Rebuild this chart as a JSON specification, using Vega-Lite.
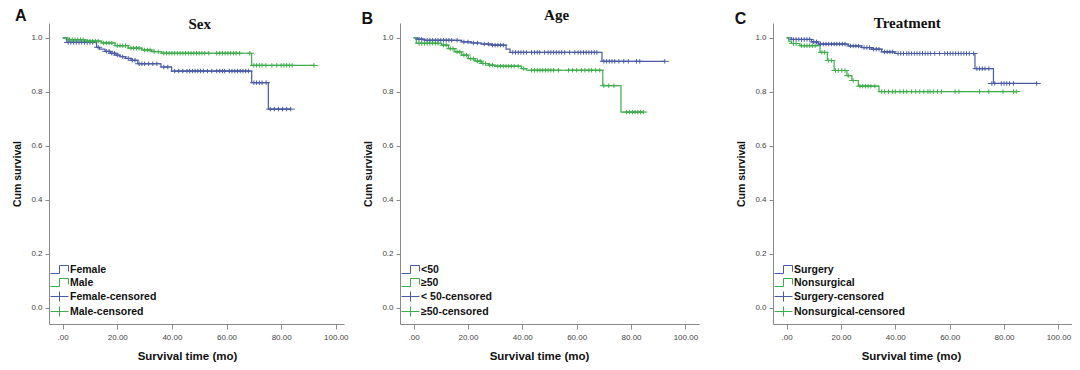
{
  "$schema": "https://vega.github.io/schema/vega-lite/v6.json",
  "padding": {"left": 12, "top": 7, "right": 0, "bottom": 0},
  "autosize": {"type": "pad"},
  "config": {
    "view": {"stroke": null},
    "font": "Liberation Sans",
    "axis": {"grid": false, "domainColor": "#8a8a8a", "tickColor": "#8a8a8a", "labelColor": "#444", "labelFont": "Liberation Sans", "labelFontSize": 8, "titleFont": "Liberation Sans", "titleFontWeight": "bold", "titleColor": "#111", "domainWidth": 1, "tickSize": 4},
    "axisX": {"titleFontSize": 11.5, "labelPadding": 4, "titlePadding": 9, "tickSize": 5},
    "axisY": {"titleFontSize": 10.5, "titlePadding": 8, "labelPadding": 3},
    "legend": {"labelFont": "Liberation Sans", "labelFontSize": 10.5, "labelFontWeight": "bold", "labelColor": "#111", "symbolSize": 100, "symbolStrokeWidth": 1, "rowPadding": 0, "labelOffset": 5, "padding": 0, "symbolFillColor": "transparent"}
  },
  "datasets": {
    "sA": [
      {"g":"Female","t":0,"s":1},{"g":"Female","t":1.5,"s":0.983},{"g":"Female","t":12.4,"s":0.965},{"g":"Female","t":13.5,"s":0.958},{"g":"Female","t":15.5,"s":0.95},{"g":"Female","t":17.5,"s":0.943},{"g":"Female","t":19.5,"s":0.936},{"g":"Female","t":21,"s":0.93},{"g":"Female","t":23,"s":0.924},{"g":"Female","t":25,"s":0.917},{"g":"Female","t":27.5,"s":0.904},{"g":"Female","t":36,"s":0.892},{"g":"Female","t":39.9,"s":0.877},{"g":"Female","t":69.2,"s":0.834},{"g":"Female","t":75.3,"s":0.736},{"g":"Female","t":83.5,"s":0.736},
      {"g":"Male","t":0,"s":1},{"g":"Male","t":2,"s":0.993},{"g":"Male","t":8,"s":0.988},{"g":"Male","t":14.3,"s":0.981},{"g":"Male","t":19.2,"s":0.971},{"g":"Male","t":24,"s":0.962},{"g":"Male","t":28.9,"s":0.955},{"g":"Male","t":32.6,"s":0.949},{"g":"Male","t":36.3,"s":0.943},{"g":"Male","t":69.2,"s":0.898},{"g":"Male","t":92,"s":0.898}
    ],
    "cA": [
      {"g":"Female-censored","t":2,"s":0.983},{"g":"Female-censored","t":3,"s":0.983},{"g":"Female-censored","t":4,"s":0.983},{"g":"Female-censored","t":5,"s":0.983},{"g":"Female-censored","t":6,"s":0.983},{"g":"Female-censored","t":7,"s":0.983},{"g":"Female-censored","t":8,"s":0.983},{"g":"Female-censored","t":9,"s":0.983},{"g":"Female-censored","t":10,"s":0.983},{"g":"Female-censored","t":11,"s":0.983},
      {"g":"Female-censored","t":13,"s":0.965},{"g":"Female-censored","t":16,"s":0.95},{"g":"Female-censored","t":17,"s":0.95},{"g":"Female-censored","t":18,"s":0.943},{"g":"Female-censored","t":19,"s":0.943},{"g":"Female-censored","t":20,"s":0.936},{"g":"Female-censored","t":22,"s":0.93},{"g":"Female-censored","t":24,"s":0.924},{"g":"Female-censored","t":25.5,"s":0.917},{"g":"Female-censored","t":26.5,"s":0.917},
      {"g":"Female-censored","t":28,"s":0.904},{"g":"Female-censored","t":29,"s":0.904},{"g":"Female-censored","t":30,"s":0.904},{"g":"Female-censored","t":31.5,"s":0.904},{"g":"Female-censored","t":33,"s":0.904},{"g":"Female-censored","t":34.5,"s":0.904},{"g":"Female-censored","t":37,"s":0.892},{"g":"Female-censored","t":38.5,"s":0.892},
      {"g":"Female-censored","t":41,"s":0.877},{"g":"Female-censored","t":42.5,"s":0.877},{"g":"Female-censored","t":44,"s":0.877},{"g":"Female-censored","t":45.5,"s":0.877},{"g":"Female-censored","t":46.5,"s":0.877},{"g":"Female-censored","t":47.5,"s":0.877},{"g":"Female-censored","t":48.5,"s":0.877},{"g":"Female-censored","t":49.5,"s":0.877},{"g":"Female-censored","t":50.5,"s":0.877},{"g":"Female-censored","t":51.5,"s":0.877},{"g":"Female-censored","t":53,"s":0.877},{"g":"Female-censored","t":54.6,"s":0.877},{"g":"Female-censored","t":56.4,"s":0.877},{"g":"Female-censored","t":57.5,"s":0.877},{"g":"Female-censored","t":58.5,"s":0.877},{"g":"Female-censored","t":59.3,"s":0.877},{"g":"Female-censored","t":61,"s":0.877},{"g":"Female-censored","t":62,"s":0.877},{"g":"Female-censored","t":63,"s":0.877},{"g":"Female-censored","t":64,"s":0.877},{"g":"Female-censored","t":65,"s":0.877},{"g":"Female-censored","t":66,"s":0.877},{"g":"Female-censored","t":67,"s":0.877},{"g":"Female-censored","t":68,"s":0.877},
      {"g":"Female-censored","t":70,"s":0.834},{"g":"Female-censored","t":71,"s":0.834},{"g":"Female-censored","t":72,"s":0.834},{"g":"Female-censored","t":73,"s":0.834},{"g":"Female-censored","t":74.5,"s":0.834},
      {"g":"Female-censored","t":76,"s":0.736},{"g":"Female-censored","t":77.5,"s":0.736},{"g":"Female-censored","t":79,"s":0.736},{"g":"Female-censored","t":80.5,"s":0.736},{"g":"Female-censored","t":82,"s":0.736},{"g":"Female-censored","t":83.5,"s":0.736},
      {"g":"Male-censored","t":2.5,"s":0.993},{"g":"Male-censored","t":3.5,"s":0.993},{"g":"Male-censored","t":4.5,"s":0.993},{"g":"Male-censored","t":5.5,"s":0.993},{"g":"Male-censored","t":6.5,"s":0.993},{"g":"Male-censored","t":7.5,"s":0.993},
      {"g":"Male-censored","t":9,"s":0.988},{"g":"Male-censored","t":10,"s":0.988},{"g":"Male-censored","t":11,"s":0.988},{"g":"Male-censored","t":12,"s":0.988},{"g":"Male-censored","t":13,"s":0.988},
      {"g":"Male-censored","t":15,"s":0.981},{"g":"Male-censored","t":16,"s":0.981},{"g":"Male-censored","t":17,"s":0.981},{"g":"Male-censored","t":18,"s":0.981},
      {"g":"Male-censored","t":20,"s":0.971},{"g":"Male-censored","t":21,"s":0.971},{"g":"Male-censored","t":22,"s":0.971},{"g":"Male-censored","t":23,"s":0.971},
      {"g":"Male-censored","t":25,"s":0.962},{"g":"Male-censored","t":26,"s":0.962},{"g":"Male-censored","t":27,"s":0.962},{"g":"Male-censored","t":28,"s":0.962},
      {"g":"Male-censored","t":30,"s":0.955},{"g":"Male-censored","t":31,"s":0.955},{"g":"Male-censored","t":32,"s":0.955},{"g":"Male-censored","t":33.5,"s":0.949},{"g":"Male-censored","t":35,"s":0.949},
      {"g":"Male-censored","t":37,"s":0.943},{"g":"Male-censored","t":38,"s":0.943},{"g":"Male-censored","t":39,"s":0.943},{"g":"Male-censored","t":40,"s":0.943},{"g":"Male-censored","t":41,"s":0.943},{"g":"Male-censored","t":42,"s":0.943},{"g":"Male-censored","t":43,"s":0.943},{"g":"Male-censored","t":44,"s":0.943},{"g":"Male-censored","t":45,"s":0.943},{"g":"Male-censored","t":46,"s":0.943},{"g":"Male-censored","t":47,"s":0.943},{"g":"Male-censored","t":48,"s":0.943},{"g":"Male-censored","t":49,"s":0.943},{"g":"Male-censored","t":50,"s":0.943},{"g":"Male-censored","t":51,"s":0.943},{"g":"Male-censored","t":52,"s":0.943},{"g":"Male-censored","t":53.5,"s":0.943},{"g":"Male-censored","t":56.4,"s":0.943},{"g":"Male-censored","t":57.5,"s":0.943},{"g":"Male-censored","t":58.5,"s":0.943},{"g":"Male-censored","t":59.5,"s":0.943},{"g":"Male-censored","t":60.5,"s":0.943},{"g":"Male-censored","t":61.5,"s":0.943},{"g":"Male-censored","t":62.5,"s":0.943},{"g":"Male-censored","t":63.5,"s":0.943},{"g":"Male-censored","t":64.8,"s":0.943},{"g":"Male-censored","t":68.5,"s":0.943},
      {"g":"Male-censored","t":70,"s":0.898},{"g":"Male-censored","t":71,"s":0.898},{"g":"Male-censored","t":72,"s":0.898},{"g":"Male-censored","t":73,"s":0.898},{"g":"Male-censored","t":74.4,"s":0.898},{"g":"Male-censored","t":76.6,"s":0.898},{"g":"Male-censored","t":78.4,"s":0.898},{"g":"Male-censored","t":80,"s":0.898},{"g":"Male-censored","t":81,"s":0.898},{"g":"Male-censored","t":82,"s":0.898},{"g":"Male-censored","t":83,"s":0.898},{"g":"Male-censored","t":84,"s":0.898},{"g":"Male-censored","t":92,"s":0.898}
    ],
    "sB": [
      {"g":"<50","t":0,"s":1},{"g":"<50","t":1.5,"s":0.995},{"g":"<50","t":4,"s":0.991},{"g":"<50","t":17.7,"s":0.985},{"g":"<50","t":21.3,"s":0.981},{"g":"<50","t":25,"s":0.977},{"g":"<50","t":28.7,"s":0.973},{"g":"<50","t":34,"s":0.958},{"g":"<50","t":35.5,"s":0.946},{"g":"<50","t":69.3,"s":0.913},{"g":"<50","t":92.4,"s":0.913},
      {"g":"≥50","t":0,"s":1},{"g":"≥50","t":1,"s":0.98},{"g":"≥50","t":10.3,"s":0.973},{"g":"≥50","t":12.8,"s":0.96},{"g":"≥50","t":15.2,"s":0.948},{"g":"≥50","t":17.7,"s":0.936},{"g":"≥50","t":20.1,"s":0.923},{"g":"≥50","t":22.6,"s":0.914},{"g":"≥50","t":25,"s":0.905},{"g":"≥50","t":27.5,"s":0.899},{"g":"≥50","t":29.9,"s":0.895},{"g":"≥50","t":39.7,"s":0.886},{"g":"≥50","t":41.5,"s":0.88},{"g":"≥50","t":69.6,"s":0.823},{"g":"≥50","t":76.3,"s":0.725},{"g":"≥50","t":84.5,"s":0.725}
    ],
    "cB": [
      {"g":"< 50-censored","t":2,"s":0.995},{"g":"< 50-censored","t":3,"s":0.995},
      {"g":"< 50-censored","t":5,"s":0.991},{"g":"< 50-censored","t":6,"s":0.991},{"g":"< 50-censored","t":7,"s":0.991},{"g":"< 50-censored","t":8,"s":0.991},{"g":"< 50-censored","t":9,"s":0.991},{"g":"< 50-censored","t":10,"s":0.991},{"g":"< 50-censored","t":11,"s":0.991},{"g":"< 50-censored","t":12,"s":0.991},{"g":"< 50-censored","t":13,"s":0.991},{"g":"< 50-censored","t":14,"s":0.991},{"g":"< 50-censored","t":16,"s":0.991},
      {"g":"< 50-censored","t":18.5,"s":0.985},{"g":"< 50-censored","t":20,"s":0.985},{"g":"< 50-censored","t":22,"s":0.981},{"g":"< 50-censored","t":23.5,"s":0.981},{"g":"< 50-censored","t":26,"s":0.977},{"g":"< 50-censored","t":27.5,"s":0.977},
      {"g":"< 50-censored","t":29,"s":0.973},{"g":"< 50-censored","t":30,"s":0.973},{"g":"< 50-censored","t":31,"s":0.973},{"g":"< 50-censored","t":32,"s":0.973},{"g":"< 50-censored","t":33,"s":0.973},
      {"g":"< 50-censored","t":36.5,"s":0.946},{"g":"< 50-censored","t":37.5,"s":0.946},{"g":"< 50-censored","t":38.5,"s":0.946},{"g":"< 50-censored","t":39.5,"s":0.946},{"g":"< 50-censored","t":40.5,"s":0.946},{"g":"< 50-censored","t":41.5,"s":0.946},{"g":"< 50-censored","t":43.4,"s":0.946},{"g":"< 50-censored","t":44.5,"s":0.946},{"g":"< 50-censored","t":45.5,"s":0.946},{"g":"< 50-censored","t":46.4,"s":0.946},{"g":"< 50-censored","t":48.2,"s":0.946},{"g":"< 50-censored","t":49.5,"s":0.946},{"g":"< 50-censored","t":50.5,"s":0.946},{"g":"< 50-censored","t":51.5,"s":0.946},{"g":"< 50-censored","t":52.5,"s":0.946},{"g":"< 50-censored","t":53.5,"s":0.946},{"g":"< 50-censored","t":54.5,"s":0.946},{"g":"< 50-censored","t":55.6,"s":0.946},{"g":"< 50-censored","t":57.4,"s":0.946},{"g":"< 50-censored","t":59.3,"s":0.946},{"g":"< 50-censored","t":60.5,"s":0.946},{"g":"< 50-censored","t":61.5,"s":0.946},{"g":"< 50-censored","t":62.5,"s":0.946},{"g":"< 50-censored","t":63.5,"s":0.946},{"g":"< 50-censored","t":64.5,"s":0.946},{"g":"< 50-censored","t":65.5,"s":0.946},{"g":"< 50-censored","t":66.5,"s":0.946},{"g":"< 50-censored","t":67.4,"s":0.946},
      {"g":"< 50-censored","t":70,"s":0.913},{"g":"< 50-censored","t":71,"s":0.913},{"g":"< 50-censored","t":72,"s":0.913},{"g":"< 50-censored","t":73,"s":0.913},{"g":"< 50-censored","t":74,"s":0.913},{"g":"< 50-censored","t":75.5,"s":0.913},{"g":"< 50-censored","t":77.3,"s":0.913},{"g":"< 50-censored","t":79,"s":0.913},{"g":"< 50-censored","t":82,"s":0.913},{"g":"< 50-censored","t":83.2,"s":0.913},{"g":"< 50-censored","t":92.4,"s":0.913},
      {"g":"≥50-censored","t":2,"s":0.98},{"g":"≥50-censored","t":3,"s":0.98},{"g":"≥50-censored","t":4,"s":0.98},{"g":"≥50-censored","t":5,"s":0.98},{"g":"≥50-censored","t":6,"s":0.98},{"g":"≥50-censored","t":7,"s":0.98},{"g":"≥50-censored","t":8,"s":0.98},{"g":"≥50-censored","t":9,"s":0.98},
      {"g":"≥50-censored","t":11,"s":0.973},{"g":"≥50-censored","t":12,"s":0.973},{"g":"≥50-censored","t":13.5,"s":0.96},{"g":"≥50-censored","t":14.5,"s":0.96},{"g":"≥50-censored","t":16,"s":0.948},{"g":"≥50-censored","t":17,"s":0.948},{"g":"≥50-censored","t":18.5,"s":0.936},{"g":"≥50-censored","t":19.5,"s":0.936},{"g":"≥50-censored","t":21,"s":0.923},{"g":"≥50-censored","t":22,"s":0.923},{"g":"≥50-censored","t":23.5,"s":0.914},{"g":"≥50-censored","t":24.5,"s":0.914},{"g":"≥50-censored","t":25.5,"s":0.905},{"g":"≥50-censored","t":26.5,"s":0.905},{"g":"≥50-censored","t":28,"s":0.899},{"g":"≥50-censored","t":29,"s":0.899},
      {"g":"≥50-censored","t":31,"s":0.895},{"g":"≥50-censored","t":32,"s":0.895},{"g":"≥50-censored","t":33,"s":0.895},{"g":"≥50-censored","t":34,"s":0.895},{"g":"≥50-censored","t":35,"s":0.895},{"g":"≥50-censored","t":36,"s":0.895},{"g":"≥50-censored","t":37,"s":0.895},{"g":"≥50-censored","t":38.5,"s":0.895},{"g":"≥50-censored","t":40.5,"s":0.886},
      {"g":"≥50-censored","t":43.4,"s":0.88},{"g":"≥50-censored","t":44.5,"s":0.88},{"g":"≥50-censored","t":45.5,"s":0.88},{"g":"≥50-censored","t":46.5,"s":0.88},{"g":"≥50-censored","t":47.5,"s":0.88},{"g":"≥50-censored","t":48.5,"s":0.88},{"g":"≥50-censored","t":49.5,"s":0.88},{"g":"≥50-censored","t":50.5,"s":0.88},{"g":"≥50-censored","t":51.5,"s":0.88},{"g":"≥50-censored","t":53.3,"s":0.88},{"g":"≥50-censored","t":57,"s":0.88},{"g":"≥50-censored","t":58.5,"s":0.88},{"g":"≥50-censored","t":60,"s":0.88},{"g":"≥50-censored","t":61.8,"s":0.88},{"g":"≥50-censored","t":63,"s":0.88},{"g":"≥50-censored","t":64.5,"s":0.88},{"g":"≥50-censored","t":65.5,"s":0.88},{"g":"≥50-censored","t":67,"s":0.88},{"g":"≥50-censored","t":68.5,"s":0.88},
      {"g":"≥50-censored","t":70,"s":0.823},{"g":"≥50-censored","t":71.8,"s":0.823},{"g":"≥50-censored","t":73.7,"s":0.823},
      {"g":"≥50-censored","t":78.4,"s":0.725},{"g":"≥50-censored","t":79.5,"s":0.725},{"g":"≥50-censored","t":80.5,"s":0.725},{"g":"≥50-censored","t":81.5,"s":0.725},{"g":"≥50-censored","t":82.5,"s":0.725},{"g":"≥50-censored","t":83.5,"s":0.725},{"g":"≥50-censored","t":84.5,"s":0.725}
    ],
    "sC": [
      {"g":"Surgery","t":0,"s":1},{"g":"Surgery","t":1.8,"s":0.994},{"g":"Surgery","t":9.2,"s":0.985},{"g":"Surgery","t":11.7,"s":0.977},{"g":"Surgery","t":22.7,"s":0.97},{"g":"Surgery","t":27.6,"s":0.964},{"g":"Surgery","t":31.3,"s":0.958},{"g":"Surgery","t":35,"s":0.948},{"g":"Surgery","t":39.9,"s":0.942},{"g":"Surgery","t":69.3,"s":0.886},{"g":"Surgery","t":76.1,"s":0.831},{"g":"Surgery","t":92,"s":0.831},
      {"g":"Nonsurgical","t":0,"s":1},{"g":"Nonsurgical","t":0.8,"s":0.988},{"g":"Nonsurgical","t":1.8,"s":0.979},{"g":"Nonsurgical","t":4.9,"s":0.971},{"g":"Nonsurgical","t":12.3,"s":0.946},{"g":"Nonsurgical","t":15,"s":0.916},{"g":"Nonsurgical","t":17.5,"s":0.879},{"g":"Nonsurgical","t":22.2,"s":0.86},{"g":"Nonsurgical","t":24,"s":0.842},{"g":"Nonsurgical","t":26.4,"s":0.821},{"g":"Nonsurgical","t":34,"s":0.801},{"g":"Nonsurgical","t":84.5,"s":0.801}
    ],
    "cC": [
      {"g":"Surgery-censored","t":2.5,"s":0.994},{"g":"Surgery-censored","t":3.5,"s":0.994},{"g":"Surgery-censored","t":4.5,"s":0.994},{"g":"Surgery-censored","t":5.5,"s":0.994},{"g":"Surgery-censored","t":6.5,"s":0.994},{"g":"Surgery-censored","t":7.5,"s":0.994},{"g":"Surgery-censored","t":8.5,"s":0.994},
      {"g":"Surgery-censored","t":10,"s":0.985},{"g":"Surgery-censored","t":11,"s":0.985},
      {"g":"Surgery-censored","t":12.5,"s":0.977},{"g":"Surgery-censored","t":13.5,"s":0.977},{"g":"Surgery-censored","t":14.5,"s":0.977},{"g":"Surgery-censored","t":15.5,"s":0.977},{"g":"Surgery-censored","t":16.5,"s":0.977},{"g":"Surgery-censored","t":17.5,"s":0.977},{"g":"Surgery-censored","t":18.5,"s":0.977},{"g":"Surgery-censored","t":19.5,"s":0.977},{"g":"Surgery-censored","t":20.5,"s":0.977},{"g":"Surgery-censored","t":21.5,"s":0.977},
      {"g":"Surgery-censored","t":23.5,"s":0.97},{"g":"Surgery-censored","t":24.5,"s":0.97},{"g":"Surgery-censored","t":25.5,"s":0.97},{"g":"Surgery-censored","t":26.5,"s":0.97},
      {"g":"Surgery-censored","t":28.5,"s":0.964},{"g":"Surgery-censored","t":29.5,"s":0.964},{"g":"Surgery-censored","t":30.5,"s":0.964},
      {"g":"Surgery-censored","t":32,"s":0.958},{"g":"Surgery-censored","t":33,"s":0.958},{"g":"Surgery-censored","t":34,"s":0.958},
      {"g":"Surgery-censored","t":36,"s":0.948},{"g":"Surgery-censored","t":37,"s":0.948},{"g":"Surgery-censored","t":38,"s":0.948},{"g":"Surgery-censored","t":39,"s":0.948},
      {"g":"Surgery-censored","t":41,"s":0.942},{"g":"Surgery-censored","t":42,"s":0.942},{"g":"Surgery-censored","t":43,"s":0.942},{"g":"Surgery-censored","t":44.2,"s":0.942},{"g":"Surgery-censored","t":45,"s":0.942},{"g":"Surgery-censored","t":46,"s":0.942},{"g":"Surgery-censored","t":47,"s":0.942},{"g":"Surgery-censored","t":48,"s":0.942},{"g":"Surgery-censored","t":49,"s":0.942},{"g":"Surgery-censored","t":50,"s":0.942},{"g":"Surgery-censored","t":51,"s":0.942},{"g":"Surgery-censored","t":52,"s":0.942},{"g":"Surgery-censored","t":53,"s":0.942},{"g":"Surgery-censored","t":54.5,"s":0.942},{"g":"Surgery-censored","t":56.3,"s":0.942},{"g":"Surgery-censored","t":58.2,"s":0.942},{"g":"Surgery-censored","t":59.2,"s":0.942},{"g":"Surgery-censored","t":60.2,"s":0.942},{"g":"Surgery-censored","t":61.2,"s":0.942},{"g":"Surgery-censored","t":62.2,"s":0.942},{"g":"Surgery-censored","t":63.2,"s":0.942},{"g":"Surgery-censored","t":64.2,"s":0.942},{"g":"Surgery-censored","t":65.2,"s":0.942},{"g":"Surgery-censored","t":66.2,"s":0.942},{"g":"Surgery-censored","t":67.2,"s":0.942},{"g":"Surgery-censored","t":68.8,"s":0.942},
      {"g":"Surgery-censored","t":70,"s":0.886},{"g":"Surgery-censored","t":71,"s":0.886},{"g":"Surgery-censored","t":72,"s":0.886},{"g":"Surgery-censored","t":73,"s":0.886},{"g":"Surgery-censored","t":74.4,"s":0.886},
      {"g":"Surgery-censored","t":75.5,"s":0.831},{"g":"Surgery-censored","t":76.6,"s":0.831},{"g":"Surgery-censored","t":79,"s":0.831},{"g":"Surgery-censored","t":80,"s":0.831},{"g":"Surgery-censored","t":81,"s":0.831},{"g":"Surgery-censored","t":82,"s":0.831},{"g":"Surgery-censored","t":83.5,"s":0.831},{"g":"Surgery-censored","t":92,"s":0.831},
      {"g":"Nonsurgical-censored","t":2.5,"s":0.979},{"g":"Nonsurgical-censored","t":3.5,"s":0.979},
      {"g":"Nonsurgical-censored","t":5.5,"s":0.971},{"g":"Nonsurgical-censored","t":6.5,"s":0.971},{"g":"Nonsurgical-censored","t":7.5,"s":0.971},{"g":"Nonsurgical-censored","t":8.5,"s":0.971},{"g":"Nonsurgical-censored","t":9.5,"s":0.971},{"g":"Nonsurgical-censored","t":10.5,"s":0.971},
      {"g":"Nonsurgical-censored","t":13,"s":0.946},{"g":"Nonsurgical-censored","t":14,"s":0.946},{"g":"Nonsurgical-censored","t":15.5,"s":0.916},{"g":"Nonsurgical-censored","t":16.5,"s":0.916},
      {"g":"Nonsurgical-censored","t":18,"s":0.879},{"g":"Nonsurgical-censored","t":19,"s":0.879},{"g":"Nonsurgical-censored","t":20.3,"s":0.879},{"g":"Nonsurgical-censored","t":21.5,"s":0.879},{"g":"Nonsurgical-censored","t":22.7,"s":0.86},{"g":"Nonsurgical-censored","t":24.5,"s":0.842},
      {"g":"Nonsurgical-censored","t":27,"s":0.821},{"g":"Nonsurgical-censored","t":28,"s":0.821},{"g":"Nonsurgical-censored","t":29,"s":0.821},{"g":"Nonsurgical-censored","t":30,"s":0.821},{"g":"Nonsurgical-censored","t":31,"s":0.821},{"g":"Nonsurgical-censored","t":32.5,"s":0.821},
      {"g":"Nonsurgical-censored","t":35,"s":0.801},{"g":"Nonsurgical-censored","t":36,"s":0.801},{"g":"Nonsurgical-censored","t":37.5,"s":0.801},{"g":"Nonsurgical-censored","t":39,"s":0.801},{"g":"Nonsurgical-censored","t":40,"s":0.801},{"g":"Nonsurgical-censored","t":41.7,"s":0.801},{"g":"Nonsurgical-censored","t":43,"s":0.801},{"g":"Nonsurgical-censored","t":44.2,"s":0.801},{"g":"Nonsurgical-censored","t":46,"s":0.801},{"g":"Nonsurgical-censored","t":47.5,"s":0.801},{"g":"Nonsurgical-censored","t":49,"s":0.801},{"g":"Nonsurgical-censored","t":50.5,"s":0.801},{"g":"Nonsurgical-censored","t":52,"s":0.801},{"g":"Nonsurgical-censored","t":52.8,"s":0.801},{"g":"Nonsurgical-censored","t":54,"s":0.801},{"g":"Nonsurgical-censored","t":55.5,"s":0.801},{"g":"Nonsurgical-censored","t":57,"s":0.801},{"g":"Nonsurgical-censored","t":62,"s":0.801},{"g":"Nonsurgical-censored","t":63.4,"s":0.801},{"g":"Nonsurgical-censored","t":71,"s":0.801},{"g":"Nonsurgical-censored","t":74.4,"s":0.801},{"g":"Nonsurgical-censored","t":79.6,"s":0.801},{"g":"Nonsurgical-censored","t":83.5,"s":0.801},{"g":"Nonsurgical-censored","t":84.5,"s":0.801}
    ]
  },
  "spacing": 56,
  "bounds": "flush",
  "resolve": {"scale": {"color": "independent", "shape": "independent"}, "legend": {"color": "independent", "shape": "independent"}},
  "hconcat": [
    {
      "width": 295, "height": 301,
      "layer": [
        {"data": {"name": "sA"}, "mark": {"type": "line", "interpolate": "step-after", "strokeWidth": 1.2},
         "encoding": {
           "x": {"field": "t", "type": "quantitative", "title": "Survival time (mo)", "scale": {"domain": [-5, 103], "nice": false, "zero": false}, "axis": {"values": [0, 20, 40, 60, 80, 100], "labelExpr": "datum.value == 0 ? '.00' : format(datum.value, '.2f')", "titleX": 138}},
           "y": {"field": "s", "type": "quantitative", "title": "Cum survival", "scale": {"domain": [-0.06, 1.055], "nice": false, "zero": false}, "axis": {"values": [0, 0.2, 0.4, 0.6, 0.8, 1], "format": ".1f"}},
           "color": {"field": "g", "type": "nominal", "scale": {"domain": ["Female", "Male", "Female-censored", "Male-censored"], "range": ["#4a5ba6", "#3dad4b", "#4a5ba6", "#3dad4b"]}, "legend": {"title": null, "orient": "none", "legendX": 5, "legendY": 241}}}},
        {"data": {"name": "cA"}, "mark": {"type": "point", "filled": false, "size": 20, "strokeWidth": 1, "opacity": 1},
         "encoding": {
           "x": {"field": "t", "type": "quantitative"},
           "y": {"field": "s", "type": "quantitative"},
           "color": {"field": "g", "type": "nominal", "scale": {"domain": ["Female", "Male", "Female-censored", "Male-censored"], "range": ["#4a5ba6", "#3dad4b", "#4a5ba6", "#3dad4b"]}, "legend": {"title": null, "orient": "none", "legendX": 5, "legendY": 241}},
           "shape": {"field": "g", "type": "nominal", "scale": {"domain": ["Female", "Male", "Female-censored", "Male-censored"], "range": ["M-1.8,0.8H0V-0.8H1.8V0.4", "M-1.8,0.8H0V-0.8H1.8V0.4", "M-1.8,0H1.8M0,-1V1", "M-1.8,0H1.8M0,-1V1"]}, "legend": {"title": null, "orient": "none", "legendX": 5, "legendY": 241}}
         }},
        {"data": {"values": [{"lab": "A"}]}, "mark": {"type": "text", "font": "Liberation Sans", "fontWeight": "bold", "fontSize": 16, "baseline": "alphabetic", "align": "center", "fill": "#111"},
         "encoding": {"x": {"datum": -15.3, "type": "quantitative"}, "y": {"datum": 1.063, "type": "quantitative"}, "text": {"field": "lab", "type": "nominal"}}},
        {"data": {"values": [{"lab": "Sex"}]}, "mark": {"type": "text", "font": "Liberation Serif", "fontWeight": "bold", "fontSize": 15, "baseline": "alphabetic", "align": "center", "fill": "#111"},
         "encoding": {"x": {"datum": 50.2, "type": "quantitative"}, "y": {"datum": 1.033, "type": "quantitative"}, "text": {"field": "lab", "type": "nominal"}}}
      ]
    },
    {
      "spacing": 74,
      "bounds": "flush",
      "resolve": {"scale": {"color": "independent", "shape": "independent"}, "legend": {"color": "independent", "shape": "independent"}},
      "hconcat": [
        {
          "width": 299, "height": 301,
          "layer": [
            {"data": {"name": "sB"}, "mark": {"type": "line", "interpolate": "step-after", "strokeWidth": 1.2},
             "encoding": {
               "x": {"field": "t", "type": "quantitative", "title": "Survival time (mo)", "scale": {"domain": [-5, 105], "nice": false, "zero": false}, "axis": {"values": [0, 20, 40, 60, 80, 100], "labelExpr": "datum.value == 0 ? '.00' : format(datum.value, '.2f')", "titleX": 139}},
               "y": {"field": "s", "type": "quantitative", "title": "Cum survival", "scale": {"domain": [-0.06, 1.055], "nice": false, "zero": false}, "axis": {"values": [0, 0.2, 0.4, 0.6, 0.8, 1], "format": ".1f"}},
               "color": {"field": "g", "type": "nominal", "scale": {"domain": ["<50", "≥50", "< 50-censored", "≥50-censored"], "range": ["#4a5ba6", "#3dad4b", "#4a5ba6", "#3dad4b"]}, "legend": {"title": null, "orient": "none", "legendX": 5, "legendY": 241}}}},
            {"data": {"name": "cB"}, "mark": {"type": "point", "filled": false, "size": 20, "strokeWidth": 1, "opacity": 1},
             "encoding": {
               "x": {"field": "t", "type": "quantitative"},
               "y": {"field": "s", "type": "quantitative"},
               "color": {"field": "g", "type": "nominal", "scale": {"domain": ["<50", "≥50", "< 50-censored", "≥50-censored"], "range": ["#4a5ba6", "#3dad4b", "#4a5ba6", "#3dad4b"]}, "legend": {"title": null, "orient": "none", "legendX": 5, "legendY": 241}},
               "shape": {"field": "g", "type": "nominal", "scale": {"domain": ["<50", "≥50", "< 50-censored", "≥50-censored"], "range": ["M-1.8,0.8H0V-0.8H1.8V0.4", "M-1.8,0.8H0V-0.8H1.8V0.4", "M-1.8,0H1.8M0,-1V1", "M-1.8,0H1.8M0,-1V1"]}, "legend": {"title": null, "orient": "none", "legendX": 5, "legendY": 241}}
             }},
            {"data": {"values": [{"lab": "B"}]}, "mark": {"type": "text", "font": "Liberation Sans", "fontWeight": "bold", "fontSize": 16, "baseline": "alphabetic", "align": "center", "fill": "#111"},
             "encoding": {"x": {"datum": -17, "type": "quantitative"}, "y": {"datum": 1.053, "type": "quantitative"}, "text": {"field": "lab", "type": "nominal"}}},
            {"data": {"values": [{"lab": "Age"}]}, "mark": {"type": "text", "font": "Liberation Serif", "fontWeight": "bold", "fontSize": 15, "baseline": "alphabetic", "align": "center", "fill": "#111"},
             "encoding": {"x": {"datum": 52.6, "type": "quantitative"}, "y": {"datum": 1.065, "type": "quantitative"}, "text": {"field": "lab", "type": "nominal"}}}
          ]
        },
        {
          "width": 299, "height": 301,
          "layer": [
            {"data": {"name": "sC"}, "mark": {"type": "line", "interpolate": "step-after", "strokeWidth": 1.2},
             "encoding": {
               "x": {"field": "t", "type": "quantitative", "title": "Survival time (mo)", "scale": {"domain": [-5, 105], "nice": false, "zero": false}, "axis": {"values": [0, 20, 40, 60, 80, 100], "labelExpr": "datum.value == 0 ? '.00' : format(datum.value, '.2f')", "titleX": 138}},
               "y": {"field": "s", "type": "quantitative", "title": "Cum survival", "scale": {"domain": [-0.06, 1.055], "nice": false, "zero": false}, "axis": {"values": [0, 0.2, 0.4, 0.6, 0.8, 1], "format": ".1f"}},
               "color": {"field": "g", "type": "nominal", "scale": {"domain": ["Surgery", "Nonsurgical", "Surgery-censored", "Nonsurgical-censored"], "range": ["#4a5ba6", "#3dad4b", "#4a5ba6", "#3dad4b"]}, "legend": {"title": null, "orient": "none", "legendX": 5, "legendY": 241}}}},
            {"data": {"name": "cC"}, "mark": {"type": "point", "filled": false, "size": 20, "strokeWidth": 1, "opacity": 1},
             "encoding": {
               "x": {"field": "t", "type": "quantitative"},
               "y": {"field": "s", "type": "quantitative"},
               "color": {"field": "g", "type": "nominal", "scale": {"domain": ["Surgery", "Nonsurgical", "Surgery-censored", "Nonsurgical-censored"], "range": ["#4a5ba6", "#3dad4b", "#4a5ba6", "#3dad4b"]}, "legend": {"title": null, "orient": "none", "legendX": 5, "legendY": 241}},
               "shape": {"field": "g", "type": "nominal", "scale": {"domain": ["Surgery", "Nonsurgical", "Surgery-censored", "Nonsurgical-censored"], "range": ["M-1.8,0.8H0V-0.8H1.8V0.4", "M-1.8,0.8H0V-0.8H1.8V0.4", "M-1.8,0H1.8M0,-1V1", "M-1.8,0H1.8M0,-1V1"]}, "legend": {"title": null, "orient": "none", "legendX": 5, "legendY": 241}}
             }},
            {"data": {"values": [{"lab": "C"}]}, "mark": {"type": "text", "font": "Liberation Sans", "fontWeight": "bold", "fontSize": 16, "baseline": "alphabetic", "align": "center", "fill": "#111"},
             "encoding": {"x": {"datum": -16.9, "type": "quantitative"}, "y": {"datum": 1.053, "type": "quantitative"}, "text": {"field": "lab", "type": "nominal"}}},
            {"data": {"values": [{"lab": "Treatment"}]}, "mark": {"type": "text", "font": "Liberation Serif", "fontWeight": "bold", "fontSize": 15, "baseline": "alphabetic", "align": "center", "fill": "#111"},
             "encoding": {"x": {"datum": 44.4, "type": "quantitative"}, "y": {"datum": 1.037, "type": "quantitative"}, "text": {"field": "lab", "type": "nominal"}}}
          ]
        }
      ]
    }
  ]
}
